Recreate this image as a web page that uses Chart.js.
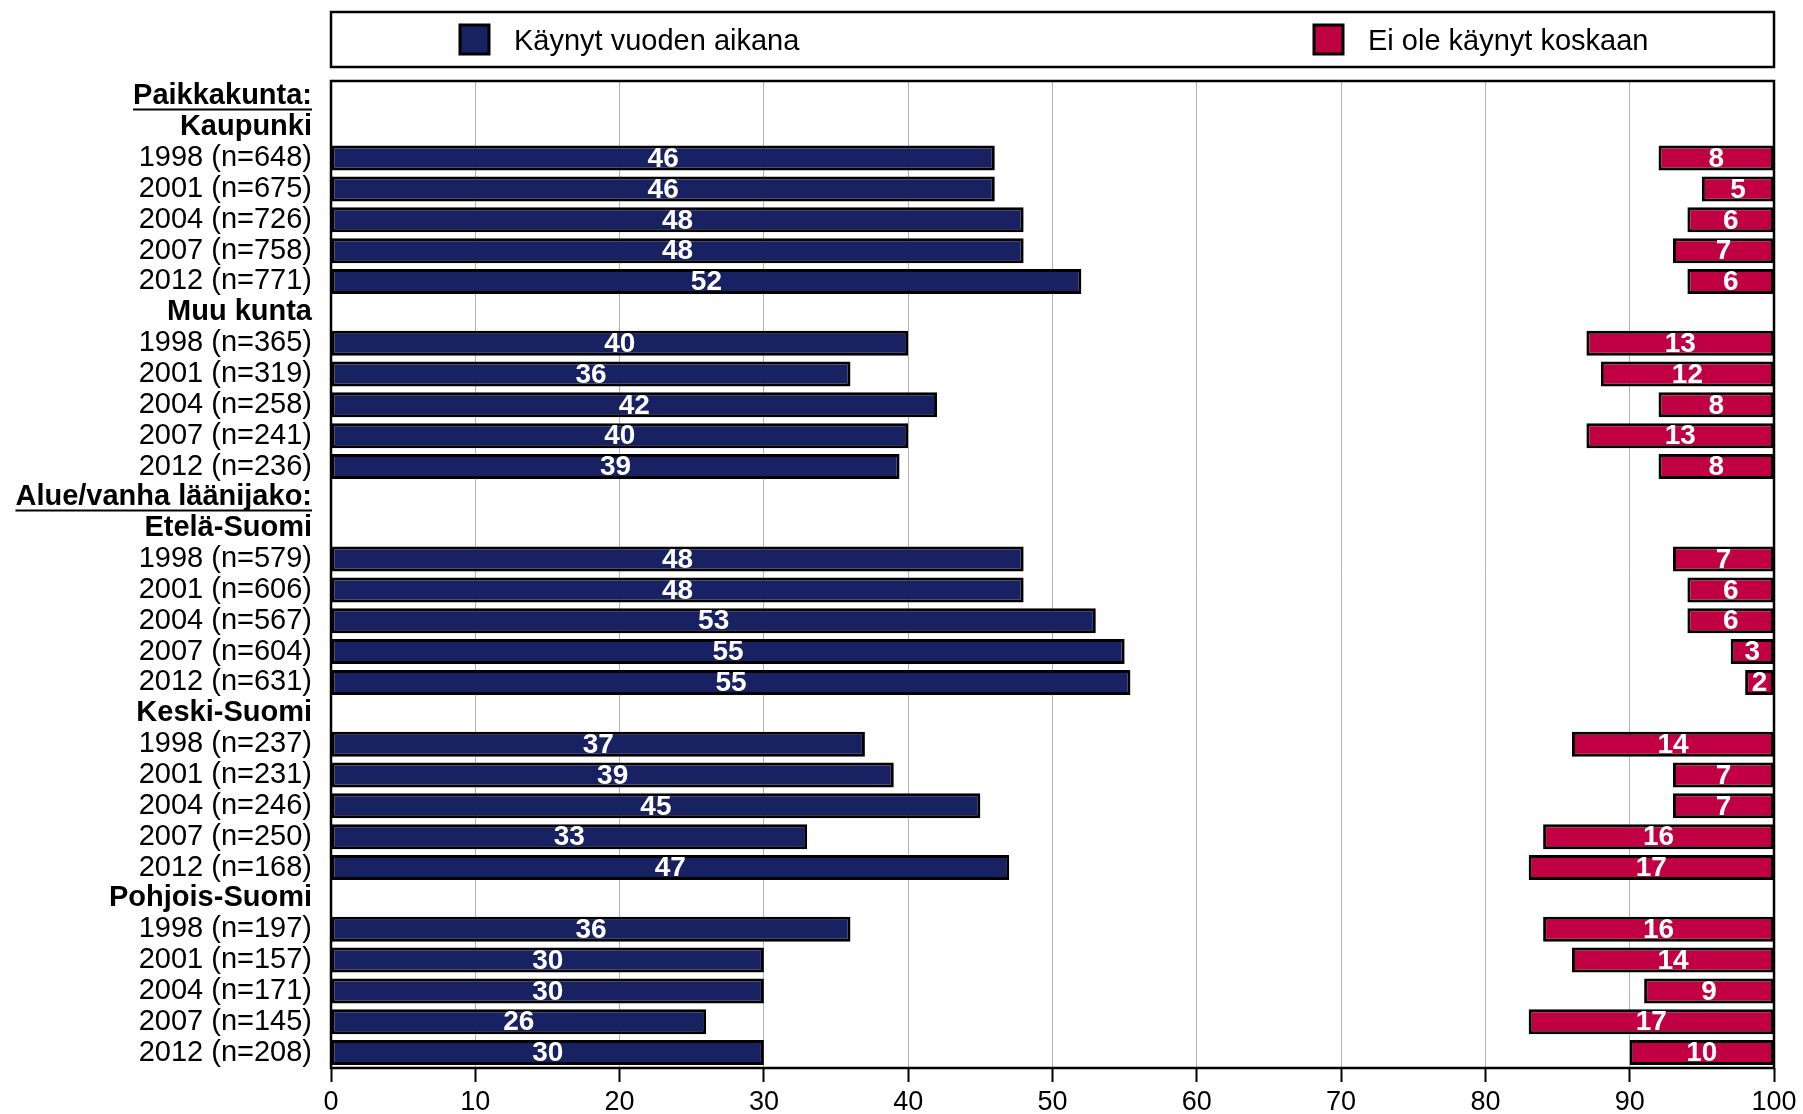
<!DOCTYPE html>
<html>
<head>
<meta charset="utf-8">
<script src="https://cdn.jsdelivr.net/npm/chart.js@4"></script>
<style>
  html, body { margin: 0; padding: 0; background: #fff; }
  canvas { display: block; }
</style>
</head>
<body>
<canvas id="chart" width="1803" height="1114"></canvas>
<script>
// row labels, top to bottom
const categories = [
    'Paikkakunta:', 'Kaupunki',
    '1998 (n=648)', '2001 (n=675)', '2004 (n=726)', '2007 (n=758)', '2012 (n=771)',
    'Muu kunta',
    '1998 (n=365)', '2001 (n=319)', '2004 (n=258)', '2007 (n=241)', '2012 (n=236)',
    'Alue/vanha läänijako:', 'Etelä-Suomi',
    '1998 (n=579)', '2001 (n=606)', '2004 (n=567)', '2007 (n=604)', '2012 (n=631)',
    'Keski-Suomi',
    '1998 (n=237)', '2001 (n=231)', '2004 (n=246)', '2007 (n=250)', '2012 (n=168)',
    'Pohjois-Suomi',
    '1998 (n=197)', '2001 (n=157)', '2004 (n=171)', '2007 (n=145)', '2012 (n=208)'
];

const underlinedLabels = ['Paikkakunta:', 'Alue/vanha läänijako:'];
const boldLabels = ['Paikkakunta:', 'Kaupunki', 'Muu kunta', 'Alue/vanha läänijako:',
    'Etelä-Suomi', 'Keski-Suomi', 'Pohjois-Suomi'];

const seriesNames = ['Käynyt vuoden aikana', 'Ei ole käynyt koskaan'];

// % visited during the year (null = heading row)
const visitedValues = [
    null, null, 46, 46, 48, 48, 52,
    null, 40, 36, 42, 40, 39.4,
    null, null, 48, 48, 53, 55, 55.4,
    null, 37, 39, 45, 33, 47,
    null, 36, 30, 30, 26, 30
];

// % never visited, drawn from the right edge (100)
const neverValues = [
    null, null, 8, 5, 6, 7, 6,
    null, 13, 12, 8, 13, 8,
    null, null, 7, 6, 6, 3, 2,
    null, 14, 7, 7, 16, 17,
    null, 16, 14, 9, 17, 10
];

const xTicks = [0, 10, 20, 30, 40, 50, 60, 70, 80, 90, 100];

const FONT = "'Liberation Sans', Arial, Helvetica, sans-serif";
const navy = '#182262';
const crimson = '#c10043';

// frame round the plot area
const framePlugin = {
    id: 'frame',
    afterDatasetsDraw(chart) {
        const a = chart.chartArea;
        const ctx = chart.ctx;
        ctx.save();
        ctx.strokeStyle = '#000';
        ctx.lineWidth = 2.5;
        ctx.strokeRect(a.left, a.top, a.right - a.left, a.bottom - a.top);
        ctx.restore();
    }
};

// white numbers centred in the bars
const valueLabels = {
    id: 'valueLabels',
    afterDatasetsDraw(chart) {
        const ctx = chart.ctx;
        ctx.save();
        ctx.font = 'bold 28px ' + FONT;
        ctx.fillStyle = '#fff';
        ctx.textAlign = 'center';
        ctx.textBaseline = 'middle';
        const sources = [visitedValues, neverValues];
        chart.data.datasets.forEach((ds, di) => {
            const meta = chart.getDatasetMeta(di);
            meta.data.forEach((el, i) => {
                const v = sources[di][i];
                if (v === null) return;
                ctx.fillText(String(Math.round(v)), (el.x + el.base) / 2, el.y + 1);
            });
        });
        ctx.restore();
    }
};

// underline for the two group headings
const underline = {
    id: 'underline',
    afterDraw(chart) {
        const scale = chart.scales.y;
        const ctx = chart.ctx;
        ctx.save();
        ctx.font = 'bold 29px ' + FONT;
        ctx.strokeStyle = '#000';
        ctx.lineWidth = 2;
        categories.forEach((c, i) => {
            if (!underlinedLabels.includes(c)) return;
            const y = scale.getPixelForTick(i) + 13;
            const right = scale.right - 19;
            const w = ctx.measureText(c).width;
            ctx.beginPath();
            ctx.moveTo(right - w, y);
            ctx.lineTo(right, y);
            ctx.stroke();
        });
        ctx.restore();
    }
};

// boxed legend above the plot
const boxLegend = {
    id: 'boxLegend',
    afterDraw(chart) {
        const a = chart.chartArea;
        const ctx = chart.ctx;
        const top = 12, bottom = 67;
        ctx.save();
        ctx.strokeStyle = '#000';
        ctx.lineWidth = 2.5;
        ctx.strokeRect(a.left, top, a.right - a.left, bottom - top);
        const swatchX = [460, 1314];
        ctx.font = '29px ' + FONT;
        ctx.textBaseline = 'middle';
        chart.data.datasets.forEach((ds, i) => {
            ctx.fillStyle = ds.backgroundColor;
            ctx.fillRect(swatchX[i], 25, 29, 29);
            ctx.lineWidth = 3;
            ctx.strokeRect(swatchX[i], 25, 29, 29);
            ctx.fillStyle = '#000';
            ctx.fillText(ds.label, swatchX[i] + 54, 42);
        });
        ctx.restore();
    }
};

new Chart(document.getElementById('chart'), {
    type: 'bar',
    data: {
        labels: categories,
        datasets: [
            {
                label: seriesNames[0],
                data: visitedValues,
                backgroundColor: navy,
                borderColor: '#000',
                borderWidth: 3,
                borderSkipped: false,
                grouped: false,
                categoryPercentage: 1,
                barPercentage: 0.81
            },
            {
                label: seriesNames[1],
                data: neverValues.map(v => v === null ? null : [100 - v, 100]),
                backgroundColor: crimson,
                borderColor: '#000',
                borderWidth: 3,
                borderSkipped: false,
                grouped: false,
                categoryPercentage: 1,
                barPercentage: 0.81
            }
        ]
    },
    options: {
        indexAxis: 'y',
        responsive: false,
        animation: false,
        devicePixelRatio: 1,
        layout: {
            padding: { top: 81, right: 29, bottom: 0, left: 0 }
        },
        plugins: {
            legend: { display: false },
            tooltip: { enabled: false }
        },
        scales: {
            x: {
                min: 0,
                max: 100,
                afterBuildTicks(scale) {
                    scale.ticks = xTicks.map(v => ({ value: v }));
                },
                afterFit(scale) {
                    scale.height = 46;
                },
                grid: {
                    color: '#b4b4b4',
                    lineWidth: 1,
                    drawTicks: true,
                    tickLength: 14,
                    tickColor: '#000',
                    tickWidth: 2
                },
                border: { display: false },
                ticks: {
                    color: '#000',
                    padding: 4,
                    maxRotation: 0,
                    font: { size: 27, family: FONT }
                }
            },
            y: {
                afterFit(scale) {
                    scale.width = 331;
                },
                grid: { display: false, drawTicks: false },
                border: { display: false },
                ticks: {
                    color: '#000',
                    padding: 19,
                    autoSkip: false,
                    font: (ctx) => ({
                        size: 29,
                        family: FONT,
                        weight: boldLabels.includes(categories[ctx.index]) ? 'bold' : 'normal',
                        lineHeight: 1
                    })
                }
            }
        }
    },
    plugins: [framePlugin, valueLabels, underline, boxLegend]
});
</script>
</body>
</html>
